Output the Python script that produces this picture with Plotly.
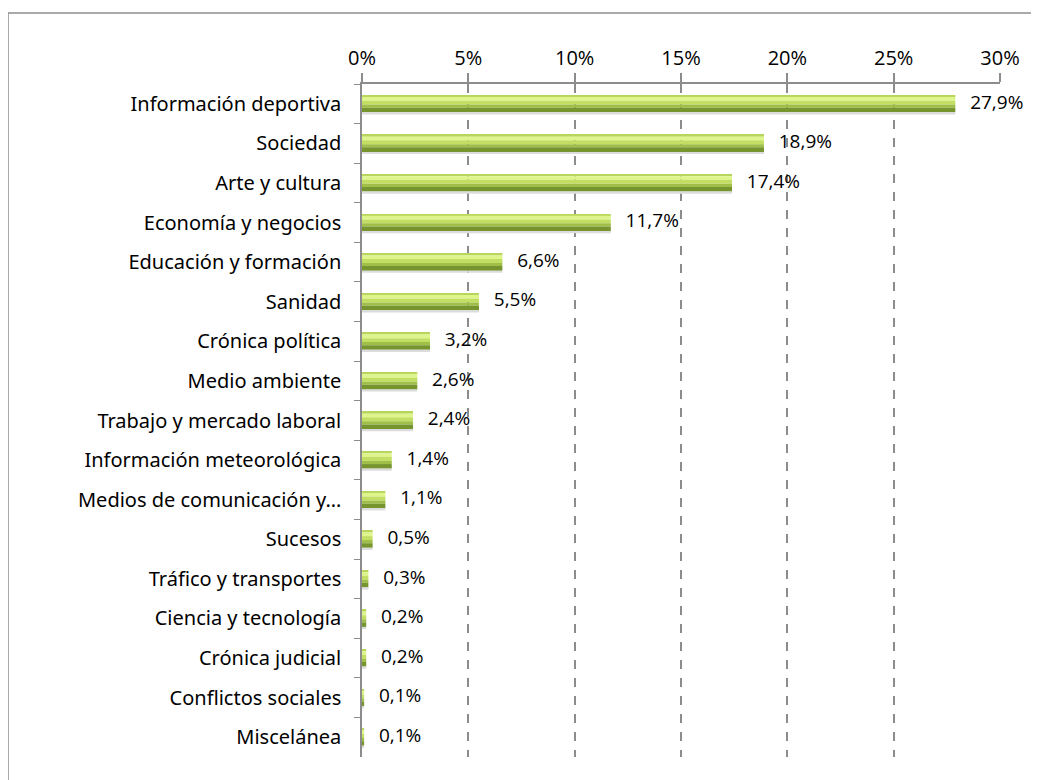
import plotly.graph_objects as go

categories = ["Información deportiva", "Sociedad", "Arte y cultura", "Economía y negocios",
              "Educación y formación", "Sanidad", "Crónica política", "Medio ambiente",
              "Trabajo y mercado laboral", "Información meteorológica", "Medios de comunicación y…",
              "Sucesos", "Tráfico y transportes", "Ciencia y tecnología", "Crónica judicial",
              "Conflictos sociales", "Miscelánea"]
values = [27.9, 18.9, 17.4, 11.7, 6.6, 5.5, 3.2, 2.6, 2.4, 1.4, 1.1, 0.5, 0.3, 0.2, 0.2, 0.1, 0.1]
labels = ["   " + f"{v:.1f}".replace(".", ",") + "%" for v in values]
x_ticks = [0, 5, 10, 15, 20, 25, 30]
x_ticktext = [f"{t}%" for t in x_ticks]

# page body has an 8px margin, so figure coords = page coords - 8
L, R, T, B = 354, 47, 76, 31
W, H = 1039, 780
pw, ph = W - L - R, H - T - B

fig = go.Figure()
# stacked strips (top -> bottom) to mimic the bar gradient and shadow
strips = [
    (-0.215, -0.17, "#b9d65c"),
    (-0.17, -0.08, "#def58c"),
    (-0.08, 0.02, "#c2df64"),
    (0.02, 0.10, "#9fbf48"),
    (0.10, 0.215, "#76952f"),
    (0.215, 0.27, "#dcdcdc"),
]
for a, b, col in strips:
    fig.add_trace(go.Bar(x=values, y=categories, orientation="h", width=b - a, offset=a,
                         marker=dict(color=col, line=dict(width=0)), hoverinfo="skip",
                         showlegend=False))
fig.add_trace(go.Scatter(x=values, y=categories, mode="text", text=labels,
                         textposition="middle right",
                         textfont=dict(family="Open Sans", size=19, color="#000"),
                         cliponaxis=False, showlegend=False, hoverinfo="skip"))

fig.update_layout(
    width=W, height=H, barmode="overlay",
    margin=dict(l=L, r=R, t=T, b=B),
    paper_bgcolor="white", plot_bgcolor="white",
    font=dict(family="Noto Sans", color="#000"),
    xaxis=dict(range=[0, 30], side="top", tickvals=x_ticks, ticktext=x_ticktext,
               showgrid=True, gridcolor="#8c8c8c", griddash="dash", gridwidth=1.5,
               showline=True, linecolor="#8c8c8c", linewidth=1.5,
               ticks="outside", ticklen=9, tickcolor="#8c8c8c", tickwidth=1.5,
               tickfont=dict(size=20, family="Open Sans"), zeroline=False),
    yaxis=dict(type="category", range=[len(categories) - 0.5, -0.5], showline=True,
               linecolor="#8c8c8c", linewidth=1.5, ticks="outside", ticklen=6,
               tickcolor="#8c8c8c", tickson="boundaries", tickfont=dict(size=20),
               showgrid=False, ticklabelstandoff=15),
)
# outer frame (top and left edges)
fx = (0 - L) / pw
fy = 1 + (T - 5) / ph
fig.add_shape(type="line", xref="paper", yref="paper", x0=fx, x1=(W - L) / pw, y0=fy, y1=fy,
              line=dict(color="#8c8c8c", width=1.5))
fig.add_shape(type="line", xref="paper", yref="paper", x0=fx, x1=fx, y0=fy, y1=-B / ph,
              line=dict(color="#8c8c8c", width=1.5))

fig.write_html("out.html")
